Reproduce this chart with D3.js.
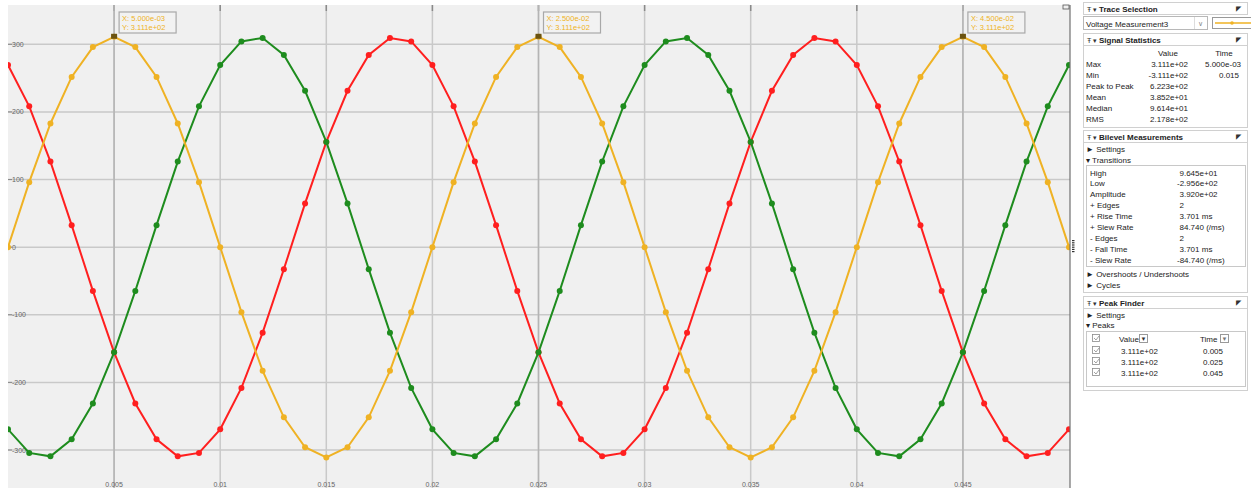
<!DOCTYPE html>
<html><head><meta charset="utf-8">
<script src="https://cdn.jsdelivr.net/npm/d3@7"></script>
<style>
html,body{margin:0;padding:0;background:#fff;}
svg{display:block;font-family:"Liberation Sans",Arial,sans-serif;}
</style></head>
<body><svg id="c" width="1251" height="488"></svg>
<script>
// time samples (s)
const time = [0,0.001,0.002,0.003,0.004,0.005,0.006,0.007,0.008,0.009,0.010,0.011,0.012,0.013,0.014,0.015,0.016,0.017,0.018,0.019,0.020,0.021,0.022,0.023,0.024,0.025,0.026,0.027,0.028,0.029,0.030,0.031,0.032,0.033,0.034,0.035,0.036,0.037,0.038,0.039,0.040,0.041,0.042,0.043,0.044,0.045,0.046,0.047,0.048,0.049,0.050];
const yellowV = [0,96.1,182.9,251.7,295.9,311.1,295.9,251.7,182.9,96.1,0,-96.1,-182.9,-251.7,-295.9,-311.1,-295.9,-251.7,-182.9,-96.1,0,96.1,182.9,251.7,295.9,311.1,295.9,251.7,182.9,96.1,0,-96.1,-182.9,-251.7,-295.9,-311.1,-295.9,-251.7,-182.9,-96.1,0,96.1,182.9,251.7,295.9,311.1,295.9,251.7,182.9,96.1,0];
const redV = [269.4,208.2,126.5,32.5,-64.7,-155.6,-231.2,-284.2,-309.4,-304.3,-269.4,-208.2,-126.5,-32.5,64.7,155.6,231.2,284.2,309.4,304.3,269.4,208.2,126.5,32.5,-64.7,-155.6,-231.2,-284.2,-309.4,-304.3,-269.4,-208.2,-126.5,-32.5,64.7,155.6,231.2,284.2,309.4,304.3,269.4,208.2,126.5,32.5,-64.7,-155.6,-231.2,-284.2,-309.4,-304.3,-269.4];
const greenV = [-269.4,-304.3,-309.4,-284.2,-231.2,-155.6,-64.7,32.5,126.5,208.2,269.4,304.3,309.4,284.2,231.2,155.6,64.7,-32.5,-126.5,-208.2,-269.4,-304.3,-309.4,-284.2,-231.2,-155.6,-64.7,32.5,126.5,208.2,269.4,304.3,309.4,284.2,231.2,155.6,64.7,-32.5,-126.5,-208.2,-269.4,-304.3,-309.4,-284.2,-231.2,-155.6,-64.7,32.5,126.5,208.2,269.4];
const xTicks = [0.005,0.01,0.015,0.02,0.025,0.03,0.035,0.04,0.045];
const xTickLabels = ["0.005","0.01","0.015","0.02","0.025","0.03","0.035","0.04","0.045"];
const yTicks = [300,200,100,0,-100,-200,-300];
const cursorTimes = [0.005,0.025,0.045];
const cursorValues = [311.1,311.1,311.1];
const cursorXLabels = ["5.000e-03","2.500e-02","4.500e-02"];
const cursorYLabels = ["3.111e+02","3.111e+02","3.111e+02"];
const statsRows = [["Max","3.111e+02","5.000e-03"],["Min","-3.111e+02","0.015"],["Peak to Peak","6.223e+02",""],["Mean","3.852e+01",""],["Median","9.614e+01",""],["RMS","2.178e+02",""]];
const bilevelRows = [["High","9.645e+01"],["Low","-2.956e+02"],["Amplitude","3.920e+02"],["+ Edges","2"],["+ Rise Time","3.701 ms"],["+ Slew Rate","84.740 (/ms)"],["- Edges","2"],["- Fall Time","3.701 ms"],["- Slew Rate","-84.740 (/ms)"]];
const peakRows = [["3.111e+02","0.005"],["3.111e+02","0.025"],["3.111e+02","0.045"]];

const svg = d3.select("#c");
const L=8, R=1070, T=5, B=488;
const x = d3.scaleLinear().domain([0,0.05]).range([L,1069]);
const y = d3.scaleLinear().domain([-300,300]).range([450,44.3]);

svg.append("rect").attr("x",L).attr("y",T).attr("width",R-L).attr("height",B-T).attr("fill","#f0f0f0");
svg.append("clipPath").attr("id","pc").append("rect").attr("x",L).attr("y",T).attr("width",R-L).attr("height",B-T);
const g = svg.append("g").attr("clip-path","url(#pc)");

// grid
g.selectAll(".hg").data(yTicks).join("line").attr("x1",L).attr("x2",R).attr("y1",d=>y(d)).attr("y2",d=>y(d)).attr("stroke","#c9c9c9").attr("stroke-width",1.5);
g.selectAll(".vg").data(xTicks).join("line").attr("y1",T).attr("y2",B).attr("x1",d=>x(d)).attr("x2",d=>x(d)).attr("stroke","#c9c9c9").attr("stroke-width",1.5);
g.selectAll(".vt").data(xTicks).join("line").attr("y1",T).attr("y2",T+6).attr("x1",d=>x(d)).attr("x2",d=>x(d)).attr("stroke","#8a8a8a").attr("stroke-width",1.5);
g.selectAll(".ct").data(cursorTimes).join("line").attr("y1",T).attr("y2",B).attr("x1",d=>x(d)).attr("x2",d=>x(d)).attr("stroke","#b4b4b4").attr("stroke-width",1.5);
// y labels
g.selectAll(".yl").data(yTicks).join("text").attr("x",L+4).attr("y",d=>y(d)+2.5).attr("font-size",7).attr("fill","#666").text(d=>d);
g.selectAll(".ytm").data(yTicks).join("line").attr("x1",L).attr("x2",L+4).attr("y1",d=>y(d)).attr("y2",d=>y(d)).attr("stroke","#888").attr("stroke-width",1);
// x labels
g.selectAll(".xl").data(xTicks).join("text").attr("x",d=>x(d)).attr("y",487).attr("text-anchor","middle").attr("font-size",7).attr("fill","#666").text((d,i)=>xTickLabels[i]);

const series = [{v:redV,c:"#ff1f1f"},{v:greenV,c:"#1e8c1e"},{v:yellowV,c:"#efb224"}];
const line = d3.line().x((d,i)=>x(time[i])).y(d=>y(d));
series.forEach(s=>{
  g.append("path").datum(s.v).attr("d",line).attr("fill","none").attr("stroke",s.c).attr("stroke-width",2);
  g.selectAll(null).data(s.v).join("circle").attr("cx",(d,i)=>x(time[i])).attr("cy",d=>y(d)).attr("r",3).attr("fill",s.c);
});
// cursor markers + tooltips
cursorTimes.forEach((t,i)=>{
  const cx=x(t), cy=y(cursorValues[i]);
  g.append("rect").attr("x",cx-3).attr("y",cy-3).attr("width",6).attr("height",5).attr("fill","#6b5310");
  const bx=cx+5;
  g.append("rect").attr("x",bx).attr("y",12).attr("width",57).attr("height",21).attr("fill","#f2f2f2").attr("stroke","#a8a8a8").attr("stroke-width",1.2);
  g.append("text").attr("x",bx+3).attr("y",20.5).attr("font-size",7.5).attr("fill","#efb224").text("X:  "+cursorXLabels[i]);
  g.append("text").attr("x",bx+3).attr("y",30).attr("font-size",7.5).attr("fill","#efb224").text("Y:  "+cursorYLabels[i]);
});
// plot right border & icons
svg.append("line").attr("x1",R).attr("x2",R).attr("y1",T).attr("y2",B).attr("stroke","#707070").attr("stroke-width",1.2);
svg.append("rect").attr("x",1063).attr("y",5).attr("width",6).attr("height",4).attr("fill","none").attr("stroke","#555").attr("stroke-width",0.8);
for(let k=0;k<6;k++) svg.append("rect").attr("x",1072).attr("y",240+k*2.2).attr("width",2.5).attr("height",1.2).attr("fill","#333");

// ---------- right panel ----------
const P = svg.append("g");
const fs=8;
function header(yTop, label){
  P.append("rect").attr("x",1083.5).attr("y",yTop+0.5).attr("width",164).attr("height",12).attr("fill","#fff").attr("stroke","#d0d0d0");
  P.append("text").attr("x",1087).attr("y",yTop+9.5).attr("font-size",7).attr("fill","#333").text("Ŧ ▾");
  P.append("text").attr("x",1099).attr("y",yTop+9.5).attr("font-size",fs).attr("font-weight","bold").attr("fill","#222").text(label);
  P.append("text").attr("x",1236).attr("y",yTop+9).attr("font-size",6.5).attr("fill","#333").text("◤");
}
function txt(xp,yp,s,anchor,w){P.append("text").attr("x",xp).attr("y",yp).attr("font-size",fs).attr("fill","#222").attr("text-anchor",anchor||"start").attr("font-weight",w||"normal").text(s);}

// Trace Selection
header(2,"Trace Selection");
P.append("rect").attr("x",1083.5).attr("y",16.5).attr("width",124).attr("height",13).attr("fill","#fff").attr("stroke","#b8b8b8");
txt(1086,26.5,"Voltage Measurement3");
P.append("text").attr("x",1198).attr("y",26).attr("font-size",7).attr("fill","#888").text("∨");
P.append("line").attr("x1",1194.5).attr("x2",1194.5).attr("y1",17).attr("y2",29).attr("stroke","#ddd");
P.append("rect").attr("x",1212.5).attr("y",17.5).attr("width",40).attr("height",11).attr("fill","#fff").attr("stroke","#999");
P.append("line").attr("x1",1215).attr("x2",1251).attr("y1",23).attr("y2",23).attr("stroke","#efb224").attr("stroke-width",1.5);
P.append("circle").attr("cx",1232).attr("cy",23).attr("r",1.8).attr("fill","#efb224");

// Signal Statistics
header(33,"Signal Statistics");
P.append("rect").attr("x",1083.5).attr("y",45.5).attr("width",164).attr("height",82).attr("fill","#fff").attr("stroke","#d0d0d0");
txt(1168,55.5,"Value","middle"); txt(1224,55.5,"Time","middle");
statsRows.forEach((r,i)=>{const yy=66.5+i*11; txt(1086,yy,r[0]); txt(1188,yy,r[1],"end"); if(r[2]) txt(r[2]==="0.015"?1239:1205, yy, r[2], r[2]==="0.015"?"end":"start");});

// Bilevel
header(130,"Bilevel Measurements");
P.append("rect").attr("x",1083.5).attr("y",142.5).attr("width",164).attr("height",150).attr("fill","#fff").attr("stroke","#d0d0d0");
txt(1086,151.5,"► Settings"); txt(1086,162.5,"▾ Transitions");
P.append("rect").attr("x",1086.5).attr("y",165.5).attr("width",159).attr("height",101).attr("fill","#fff").attr("stroke","#c8c8c8");
bilevelRows.forEach((r,i)=>{const yy=175.5+i*10.9; txt(1090,yy,r[0]); txt(r[1][0]==="-"?1177:1179.5,yy,r[1]);});
txt(1086,276.5,"► Overshoots / Undershoots"); txt(1086,288,"► Cycles");

// Peak Finder
header(296,"Peak Finder");
P.append("rect").attr("x",1083.5).attr("y",308.5).attr("width",164).attr("height",82).attr("fill","#fff").attr("stroke","#d0d0d0");
txt(1086,317.5,"► Settings"); txt(1086,328,"▾ Peaks");
P.append("rect").attr("x",1086.5).attr("y",331.5).attr("width",159).attr("height",55).attr("fill","#fff").attr("stroke","#c8c8c8");
function cb(yc){P.append("rect").attr("x",1092.5).attr("y",yc-4.5).attr("width",7).attr("height",7).attr("fill","#fff").attr("stroke","#8a8a8a").attr("stroke-width",0.8);
  P.append("path").attr("d",`M${1094},${yc-1} L${1096},${yc+1} L${1099},${yc-3}`).attr("fill","none").attr("stroke","#8a8a8a").attr("stroke-width",0.8);}
cb(339); txt(1119,341.5,"Value"); txt(1200,341.5,"Time");
P.append("rect").attr("x",1139.5).attr("y",334.5).attr("width",8).attr("height",8).attr("fill","#fff").attr("stroke","#999");
P.append("text").attr("x",1140.5).attr("y",341).attr("font-size",6).attr("fill","#333").text("▼");
P.append("rect").attr("x",1220.5).attr("y",334.5).attr("width",8).attr("height",8).attr("fill","#fff").attr("stroke","#999");
P.append("text").attr("x",1221.5).attr("y",341).attr("font-size",6).attr("fill","#777").text("▼");
peakRows.forEach((r,i)=>{const yy=351+i*11; cb(yy); txt(1121,yy+2.5,r[0]); txt(1203,yy+2.5,r[1]);});
</script></body></html>
